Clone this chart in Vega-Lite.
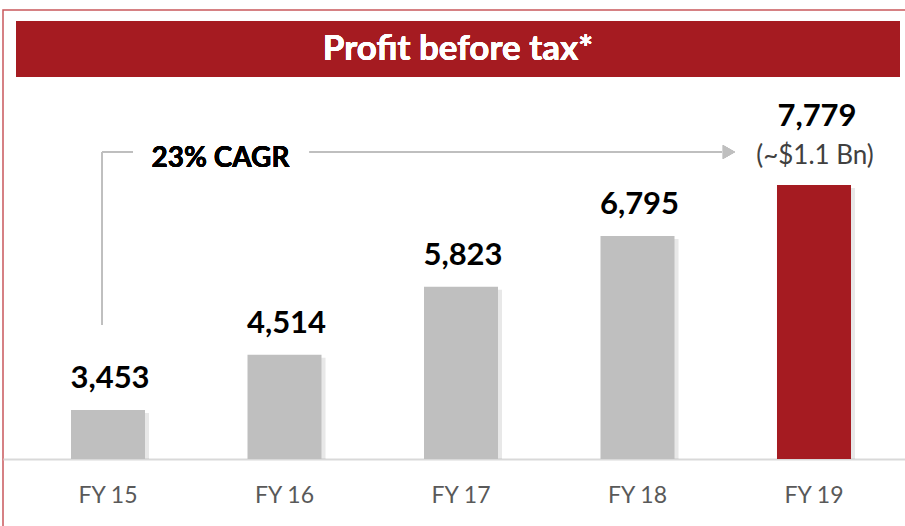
{
  "$schema": "https://vega.github.io/schema/vega-lite/v6.json",
  "width": 916,
  "height": 526,
  "autosize": {"type": "none"},
  "padding": {"left": 3, "top": 10, "right": 0, "bottom": 0},
  "background": "white",
  "config": {
    "view": {"stroke": "#C9585C", "strokeWidth": 1.5},
    "font": "Lato"
  },
  "data": {
    "values": [
      {"FY": "FY 15", "pbt": 3453, "note": ""},
      {"FY": "FY 16", "pbt": 4514, "note": ""},
      {"FY": "FY 17", "pbt": 5823, "note": ""},
      {"FY": "FY 18", "pbt": 6795, "note": ""},
      {"FY": "FY 19", "pbt": 7779, "note": "(~$1.1 Bn)"}
    ]
  },
  "encoding": {
    "x": {
      "field": "FY",
      "type": "nominal",
      "sort": null,
      "scale": {"domain": ["FY 15", "FY 16", "FY 17", "FY 18", "FY 19"], "paddingInner": 0.5807, "paddingOuter": 0.3853},
      "axis": {
        "title": null,
        "orient": "bottom",
        "offset": -77,
        "domainColor": "#D9D9D9",
        "domainWidth": 2,
        "ticks": false,
        "tickSize": 0,
        "labelPadding": 25,
        "labelFont": "Lato",
        "labelFontSize": 23,
        "labelColor": "#595959",
        "labelAngle": 0
      }
    }
  },
  "layer": [
    {
      "mark": {"type": "bar", "color": "#A51B21", "width": 884, "xOffset": -3},
      "encoding": {
        "x": {"datum": "FY 17", "type": "nominal"},
        "y": {"datum": 10930, "type": "quantitative", "scale": {"domain": [1030, 11142], "zero": false, "nice": false}, "axis": null},
        "y2": {"datum": 9854}
      }
    },
    {
      "mark": {"type": "text", "color": "white", "fontWeight": "bold", "fontSize": 35, "align": "center", "baseline": "alphabetic"},
      "encoding": {
        "x": {"datum": "FY 17", "type": "nominal", "bandPosition": 0.459},
        "y": {"datum": 10181, "type": "quantitative"},
        "text": {"value": "Profit before tax*"}
      }
    },
    {
      "mark": {"type": "bar", "color": "#808080", "opacity": 0.18, "xOffset": 4, "yOffset": 3},
      "encoding": {
        "y": {"field": "pbt", "type": "quantitative"},
        "y2": {"datum": 2511}
      }
    },
    {
      "mark": {"type": "bar"},
      "encoding": {
        "y": {"field": "pbt", "type": "quantitative"},
        "y2": {"datum": 2511},
        "color": {"condition": {"test": "datum.FY === 'FY 19'", "value": "#A51B21"}, "value": "#BFBFBF"}
      }
    },
    {
      "transform": [{"filter": "datum.FY !== 'FY 19'"}],
      "mark": {"type": "text", "fontWeight": "bold", "fontSize": 31, "color": "#000000", "baseline": "alphabetic", "dy": -22, "dx": 2},
      "encoding": {
        "y": {"field": "pbt", "type": "quantitative"},
        "text": {"field": "pbt", "type": "quantitative", "format": ","}
      }
    },
    {
      "transform": [{"filter": "datum.FY === 'FY 19'"}],
      "mark": {"type": "text", "fontWeight": "bold", "fontSize": 31, "color": "#000000", "baseline": "alphabetic", "dy": -59, "dx": 3},
      "encoding": {
        "y": {"field": "pbt", "type": "quantitative"},
        "text": {"field": "pbt", "type": "quantitative", "format": ","}
      }
    },
    {
      "transform": [{"filter": "datum.FY === 'FY 19'"}],
      "mark": {"type": "text", "fontSize": 26, "color": "#404040", "baseline": "alphabetic", "dy": -21, "dx": 1},
      "encoding": {
        "y": {"field": "pbt", "type": "quantitative"},
        "text": {"field": "note", "type": "nominal"}
      }
    },
    {
      "mark": {"type": "text", "fontWeight": "bold", "fontSize": 28, "color": "#000000", "align": "center", "baseline": "alphabetic"},
      "encoding": {
        "x": {"datum": "FY 16", "type": "nominal", "bandPosition": -0.365},
        "y": {"datum": 8124, "type": "quantitative"},
        "text": {"value": "23% CAGR"}
      }
    },
    {
      "mark": {"type": "rule", "color": "#BFBFBF", "strokeWidth": 1.5},
      "encoding": {
        "x": {"datum": "FY 15", "type": "nominal", "bandPosition": 0.419},
        "y": {"datum": 8412, "type": "quantitative"},
        "y2": {"datum": 5087}
      }
    },
    {
      "mark": {"type": "rule", "color": "#BFBFBF", "strokeWidth": 1.5},
      "encoding": {
        "x": {"datum": "FY 15", "type": "nominal", "bandPosition": 0.419},
        "x2": {"datum": "FY 15", "bandPosition": 0.838},
        "y": {"datum": 8412, "type": "quantitative"}
      }
    },
    {
      "mark": {"type": "rule", "color": "#BFBFBF", "strokeWidth": 1.5},
      "encoding": {
        "x": {"datum": "FY 16", "type": "nominal", "bandPosition": 0.838},
        "x2": {"datum": "FY 19", "bandPosition": -0.743},
        "y": {"datum": 8412, "type": "quantitative"}
      }
    },
    {
      "mark": {"type": "point", "shape": "triangle-right", "filled": true, "color": "#BFBFBF", "opacity": 1, "size": 200},
      "encoding": {
        "x": {"datum": "FY 19", "type": "nominal", "bandPosition": -0.649},
        "y": {"datum": 8412, "type": "quantitative"}
      }
    }
  ]
}
